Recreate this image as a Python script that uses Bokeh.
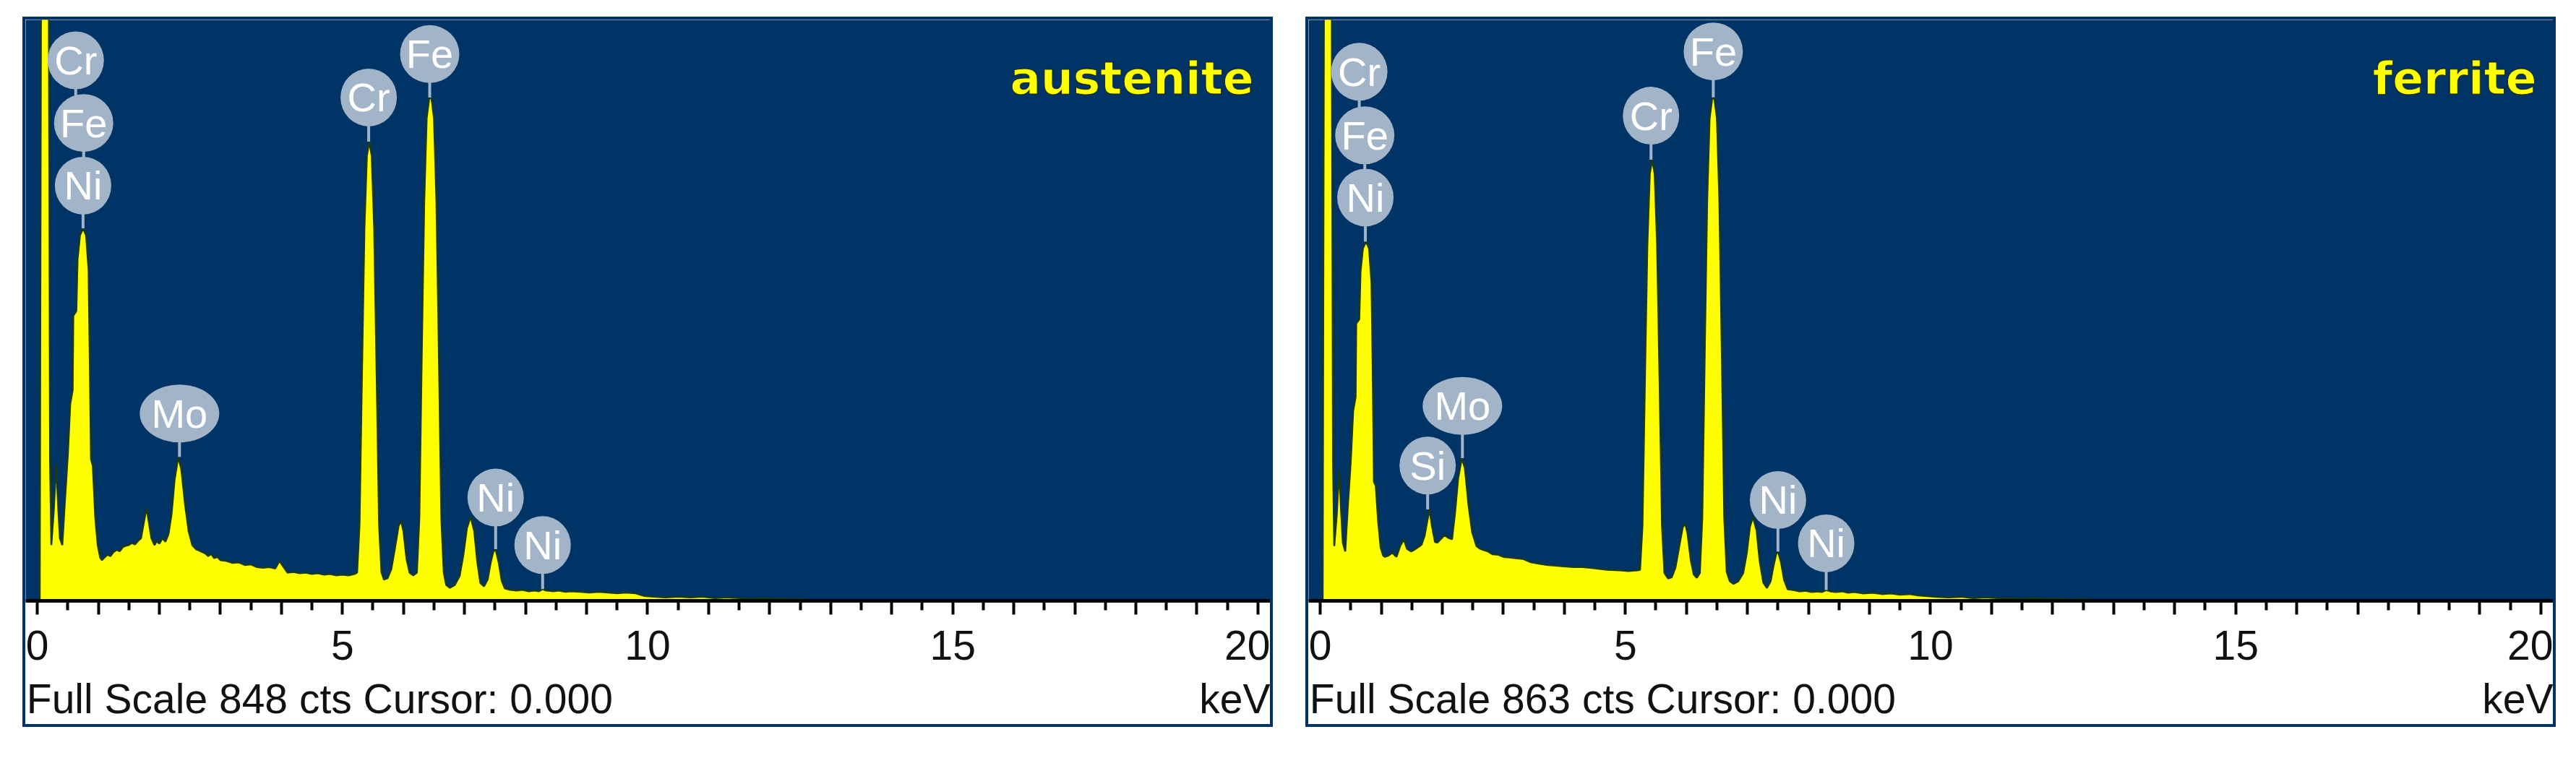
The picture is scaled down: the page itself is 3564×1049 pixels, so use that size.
from bokeh.plotting import figure
from bokeh.models import Range1d, FixedTicker, Label, ColumnDataSource, LinearAxis, Spacer
from bokeh.layouts import row, column
from bokeh.embed import file_html
from bokeh.resources import INLINE
from bokeh.core.properties import value

# ---------------- data ----------------
PANEL_NAMES = ["austenite", "ferrite"]
FULL_SCALE = [848, 863]
TICK_VALUES = [0, 5, 10, 15, 20]
TICK_LABELS = ["0", "5", "10", "15", "20"]
CURSOR_TEXT = ["Full Scale 848 cts Cursor: 0.000", "Full Scale 863 cts Cursor: 0.000"]
UNIT_TEXT = "keV"

AUS_KEV = [0.04, 0.06, 0.19, 0.21, 0.23, 0.27, 0.31, 0.34, 0.37, 0.41, 0.45, 0.50, 0.54, 0.58, 0.59,
           0.64, 0.66, 0.70, 0.75, 0.80, 0.84, 0.86, 0.88, 0.91, 0.95, 0.99, 1.03, 1.06, 1.10, 1.15,
           1.20, 1.25, 1.30, 1.35, 1.40, 1.45, 1.50, 1.55, 1.60, 1.65, 1.70, 1.74, 1.79, 1.83, 1.87,
           1.92, 1.96, 2.00, 2.05, 2.10, 2.15, 2.20, 2.25, 2.31, 2.36, 2.42, 2.48, 2.54, 2.60, 2.65,
           2.70, 2.75, 2.80, 2.85, 2.90, 2.95, 3.00, 3.10, 3.20, 3.30, 3.40, 3.50, 3.60, 3.70, 3.80,
           3.90, 3.97, 4.02, 4.10, 4.20, 4.30, 4.40, 4.50, 4.60, 4.70, 4.80, 4.90, 5.00, 5.10, 5.20,
           5.24, 5.28, 5.32, 5.36, 5.40, 5.44, 5.48, 5.52, 5.56, 5.60, 5.64, 5.68, 5.74, 5.80, 5.86,
           5.92, 5.96, 6.00, 6.05, 6.10, 6.16, 6.22, 6.26, 6.30, 6.34, 6.38, 6.42, 6.44, 6.46, 6.50,
           6.54, 6.58, 6.62, 6.66, 6.70, 6.76, 6.84, 6.92, 6.98, 7.04, 7.10, 7.16, 7.21, 7.26, 7.32,
           7.38, 7.43, 7.47, 7.51, 7.56, 7.61, 7.66, 7.75, 7.85, 7.95, 8.05, 8.15, 8.22, 8.28, 8.34,
           8.45, 8.55, 8.65, 8.75, 8.90, 9.05, 9.20, 9.35, 9.50, 9.65, 9.80, 9.95, 10.10, 10.30, 10.50,
           10.70, 10.90, 11.10, 11.30, 11.50, 11.70, 11.90, 12.10, 12.30, 12.50, 12.70, 20.30]
AUS_CTS = [0, 845, 845, 200, 80, 130, 198, 140, 90, 80, 140, 210, 285, 305, 413,
           420, 495, 530, 540, 530, 480, 350, 205, 195, 120, 80, 62, 58, 62, 66,
           64, 70, 73, 71, 77, 79, 80, 83, 81, 86, 90, 110, 134, 112, 90,
           80, 86, 82, 90, 85, 96, 125, 175, 208, 190, 140, 100, 80, 74, 72,
           70, 68, 64, 67, 61, 63, 58, 57, 54, 55, 51, 52, 48, 47, 48,
           46, 57, 50, 40, 41, 39, 40, 38, 39, 37, 38, 36, 37, 36, 38,
           40, 110, 330, 540, 645, 666, 645, 540, 330, 110, 40, 30, 32, 45, 75,
           108, 115, 100, 60, 40, 36, 40, 120, 360, 580, 700, 728, 730, 728, 700,
           580, 360, 120, 40, 22, 18, 22, 35, 65, 105, 121, 100, 55, 25, 20,
           30, 55, 70, 74, 55, 28, 17, 15, 14, 15, 13, 14, 13, 16, 14,
           13, 14, 12, 13, 12, 11, 12, 11, 10, 11, 10, 6, 5, 4, 5,
           4, 5, 3, 4, 3, 2, 3, 2, 2, 1, 0, 0]

FER_KEV = [0.04, 0.06, 0.19, 0.21, 0.23, 0.27, 0.31, 0.34, 0.37, 0.41, 0.45, 0.50, 0.54, 0.58, 0.59,
           0.64, 0.66, 0.70, 0.75, 0.80, 0.84, 0.86, 0.88, 0.91, 0.95, 0.99, 1.03, 1.06, 1.12, 1.18,
           1.25, 1.31, 1.37, 1.42, 1.49, 1.55, 1.60, 1.66, 1.71, 1.75, 1.79, 1.83, 1.88, 1.92, 1.97,
           2.04, 2.10, 2.16, 2.21, 2.26, 2.32, 2.37, 2.43, 2.49, 2.56, 2.62, 2.68, 2.75, 2.82, 2.92,
           3.00, 3.10, 3.20, 3.32, 3.45, 3.58, 3.71, 3.85, 3.99, 4.15, 4.30, 4.50, 4.70, 4.90, 5.05,
           5.20, 5.24, 5.28, 5.32, 5.36, 5.40, 5.44, 5.48, 5.52, 5.56, 5.60, 5.64, 5.70, 5.76, 5.82,
           5.88, 5.94, 5.98, 6.02, 6.07, 6.12, 6.17, 6.22, 6.26, 6.30, 6.34, 6.38, 6.42, 6.44, 6.46,
           6.50, 6.54, 6.58, 6.62, 6.66, 6.71, 6.77, 6.85, 6.93, 6.99, 7.04, 7.09, 7.15, 7.20, 7.26,
           7.32, 7.38, 7.43, 7.47, 7.50, 7.55, 7.60, 7.66, 7.75, 7.85, 7.95, 8.05, 8.15, 8.22, 8.29,
           8.36, 8.45, 8.55, 8.65, 8.75, 8.90, 9.05, 9.20, 9.35, 9.50, 9.65, 9.80, 9.95, 10.10, 10.30,
           10.50, 10.70, 10.90, 11.10, 11.30, 11.50, 11.70, 11.90, 12.10, 12.30, 12.50, 12.70, 20.30]
FER_CTS = [0, 860, 860, 200, 80, 125, 193, 135, 85, 72, 135, 205, 280, 300, 409,
           415, 485, 520, 530, 520, 470, 340, 175, 169, 115, 78, 66, 64, 66, 70,
           64, 80, 90, 76, 72, 75, 78, 82, 95, 115, 134, 110, 86, 85, 90,
           96, 92, 90, 130, 180, 210, 195, 140, 100, 80, 76, 74, 72, 68, 67,
           64, 63, 62, 61, 56, 54, 52, 51, 50, 49, 49, 47, 45, 44, 43,
           44, 45, 110, 325, 525, 630, 651, 630, 525, 325, 110, 40, 32, 34, 48,
           78, 108, 113, 98, 60, 38, 33, 40, 122, 365, 590, 712, 740, 743, 740,
           712, 590, 365, 122, 42, 28, 24, 28, 40, 70, 108, 123, 103, 58, 26,
           18, 28, 52, 68, 72, 56, 30, 16, 15, 13, 14, 12, 13, 12, 15,
           13, 12, 13, 11, 12, 10, 11, 9, 10, 8, 9, 7, 6, 5, 4,
           5, 3, 4, 3, 3, 2, 3, 2, 2, 1, 2, 0, 0]

# element markers: name, energy (keV), marker centre (cts), stem end (cts)
AUS_LBL = ["Cr", "Fe", "Ni", "Mo", "Cr", "Fe", "Ni", "Ni"]
AUS_LBL_KEV = [0.63, 0.76, 0.75, 2.33, 5.43, 6.43, 7.51, 8.28]
AUS_LBL_CTS = [784, 693, 602, 271, 730, 793, 149, 80]
AUS_STEM_END = [693, 602, 540, 208, 666, 730, 74, 16]

FER_LBL = ["Cr", "Fe", "Ni", "Si", "Mo", "Cr", "Fe", "Ni", "Ni"]
FER_LBL_KEV = [0.64, 0.73, 0.74, 1.76, 2.33, 5.42, 6.44, 7.50, 8.29]
FER_LBL_CTS = [781, 687, 595, 199, 287, 716, 811, 148, 84]
FER_STEM_END = [687, 595, 530, 134, 210, 651, 743, 72, 15]

# ---------------- style ----------------
BG = "#003366"
YELLOW = "#ffff00"
EDGE = "#1c3a14"
MARK = "#a2b4c8"
FONT = "Liberation Sans"
MARK_W = {"Mo": 110, "Fe": 82}

BOX_W, BOX_H = 1730, 983          # outer panel incl. 4px border
CONTENT_W, CONTENT_H = BOX_W - 8, BOX_H - 8
BOTTOM = 179                      # white strip under the spectrum
PX_PER_KEV = 84.05
ZERO_PX = 16                      # 0 keV sits 16px right of the frame's left edge
X0 = -ZERO_PX / PX_PER_KEV
X1 = X0 + CONTENT_W / PX_PER_KEV


def make_panel(i, kev, cts, lbl, lbl_kev, lbl_cts, stem_end):
    frame_h = CONTENT_H - BOTTOM
    top = FULL_SCALE[i] * frame_h / 801.0
    p = figure(width=BOX_W, height=BOX_H, output_backend="svg", toolbar_location=None,
               x_range=Range1d(X0, X1), y_range=Range1d(-1, top),
               y_axis_location=None, x_axis_location="below",
               min_border_left=0, min_border_right=0, min_border_top=0, min_border_bottom=BOTTOM)
    p.background_fill_color = BG
    p.border_fill_color = "white"
    p.outline_line_color = None
    p.grid.visible = False
    p.styles = {"border": "4px solid " + BG}

    src = ColumnDataSource(dict(x=kev, y=cts))
    p.varea(x="x", y1=0, y2="y", source=src, fill_color=YELLOW)
    p.line(x="x", y="y", source=src, line_color=EDGE, line_width=2.5)

    ms = ColumnDataSource(dict(x=lbl_kev, y=lbl_cts, t=lbl, y1=stem_end,
                               w=[MARK_W.get(s, 78) for s in lbl]))
    p.segment(x0="x", y0="y", x1="x", y1="y1", source=ms, line_color=MARK, line_width=4)
    p.ellipse(x="x", y="y", width="w", height=80, width_units="screen", height_units="screen",
              source=ms, fill_color=MARK, line_color=None)
    p.text(x="x", y="y", text="t", source=ms, text_color="white", text_font=value(FONT),
           text_font_size="56px", text_align="center", text_baseline="middle")

    ax = p.xaxis[0]
    ax.ticker = FixedTicker(ticks=list(range(0, 21)), minor_ticks=[k + 0.5 for k in range(20)])
    overrides = {k: "" for k in range(0, 21)}
    for v, t in zip(TICK_VALUES, TICK_LABELS):
        overrides[v] = t
    ax.major_label_overrides = overrides
    ax.axis_line_color = "black"
    ax.axis_line_width = 5
    ax.major_tick_line_color = "black"
    ax.major_tick_line_width = 4
    ax.major_tick_in = 0
    ax.major_tick_out = 19
    ax.minor_tick_line_color = "black"
    ax.minor_tick_line_width = 4
    ax.minor_tick_in = 0
    ax.minor_tick_out = 13
    ax.major_label_text_font = FONT
    ax.major_label_text_font_size = "57px"
    ax.major_label_text_color = "#111111"
    ax.major_label_standoff = 22

    # status line under the scale: left text and unit at right, carried by a bare axis
    left_c = X0 + 405 / PX_PER_KEV
    right_c = X1 - 50 / PX_PER_KEV
    status = LinearAxis(ticker=FixedTicker(ticks=[left_c, right_c], minor_ticks=[]),
                        major_label_overrides={left_c: CURSOR_TEXT[i], right_c: UNIT_TEXT})
    status.axis_line_color = None
    status.major_tick_line_color = None
    status.minor_tick_line_color = None
    status.major_tick_out = 0
    status.minor_tick_out = 0
    status.major_label_standoff = 19
    status.major_label_text_font = FONT
    status.major_label_text_font_size = "57px"
    status.major_label_text_color = "#111111"
    p.add_layout(status, "below")

    p.add_layout(Label(x=CONTENT_W - 23, y=frame_h - 73, x_units="screen", y_units="screen",
                       text=PANEL_NAMES[i], text_font="DejaVu Sans", text_font_style="bold",
                       text_font_size="63px", text_color=YELLOW, text_align="right",
                       text_baseline="alphabetic", text_outline_color="#1a2a08"))
    return p


p1 = make_panel(0, AUS_KEV, AUS_CTS, AUS_LBL, AUS_LBL_KEV, AUS_LBL_CTS, AUS_STEM_END)
p2 = make_panel(1, FER_KEV, FER_CTS, FER_LBL, FER_LBL_KEV, FER_LBL_CTS, FER_STEM_END)
layout = column(Spacer(width=10, height=23),
                row(Spacer(width=31, height=10), p1, Spacer(width=45, height=10), p2))

open("out.html", "w").write(file_html(layout, INLINE))
